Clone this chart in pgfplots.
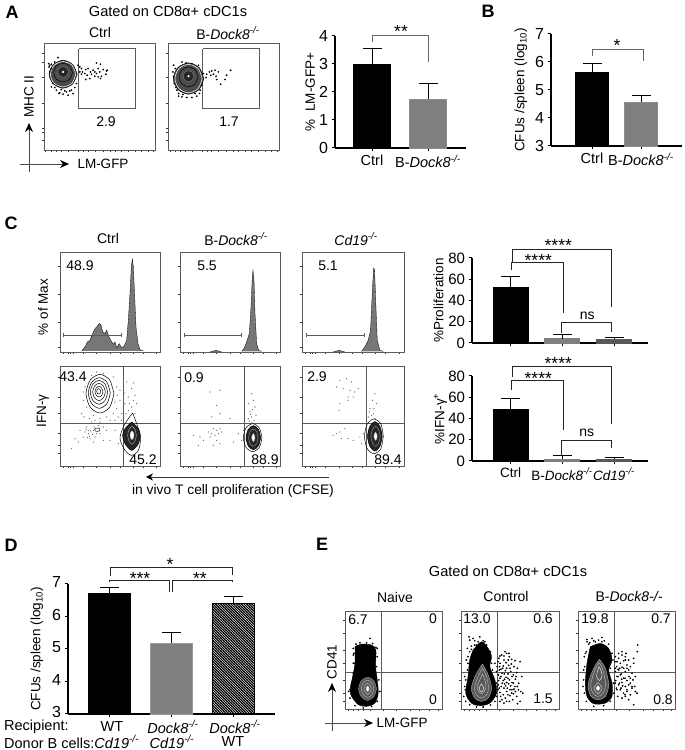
\documentclass[border=0pt]{standalone}
\usepackage{fontspec}
\setmainfont{Liberation Sans}
\usepackage{pgfplots}
\pgfplotsset{compat=1.18}
\usetikzlibrary{arrows.meta,patterns}
\pgfdeclarepatternformonly{hatchd}{\pgfqpoint{-1pt}{-1pt}}{\pgfqpoint{3.6pt}{3.6pt}}{\pgfqpoint{2.6pt}{2.6pt}}{\pgfsetlinewidth{1.05pt}\pgfpathmoveto{\pgfqpoint{-0.5pt}{3.1pt}}\pgfpathlineto{\pgfqpoint{3.1pt}{-0.5pt}}\pgfusepath{stroke}}
\definecolor{hist}{HTML}{777777}
\definecolor{barg}{HTML}{7F7F7F}
\definecolor{frame}{HTML}{5A5A5A}
\newcommand\dk{\textit{Dock8}\textsuperscript{\textit{-/-}}}
\newcommand\cd{\textit{Cd19}\textsuperscript{\textit{-/-}}}
\newcommand\T[3]{\node[inner sep=0pt] at (#1,750-#2) {#3};}
\newcommand\Tr[3]{\node[inner sep=0pt,rotate=90] at (#1,750-#2) {#3};}
\newcommand\Pan[3]{\node[inner sep=0pt,font=\fontsize{18}{18}\selectfont\bfseries] at (#1,750-#2) {#3};}
\newcommand\Star[3]{\node[inner sep=0pt,font=\fontsize{17.5}{17}\selectfont] at (#1,750-#2-3) {#3};}
\newcommand\Fs[1]{\fontsize{#1}{15}\selectfont}
\pgfplotsset{
 facs/.style n args={4}{scale only axis,anchor=center,
   at={(\fpeval{(#1+#3)/2}pt,\fpeval{750-(#2+#4)/2}pt)},
   width=\fpeval{#3-#1}pt,height=\fpeval{#4-#2}pt,
   y dir=reverse,xticklabels={},yticklabels={},
   xtick pos=left,ytick pos=left,tick align=outside,
   major tick length=2pt,
   tick style={black!80,line width=.5pt},
   axis line style={draw=frame,line width=.7pt}},
 bars/.style n args={4}{scale only axis,anchor=south west,
   at={(#1pt,\fpeval{750-#2}pt)},width=#3pt,height=#4pt,
   axis x line=bottom,axis y line=left,
   axis line style={-,black,line width=1.1pt},
   tick style={black,line width=1pt},major tick length=3.5pt,
   tick align=outside,
   /pgf/number format/assume math mode=true,
   y tick label style={font=\fontsize{16}{16}\selectfont},
   x tick label style={font=\fontsize{14.5}{15}\selectfont},
   ylabel style={font=\fontsize{13.5}{15}\selectfont,anchor=center},
   clip=false},
 br/.style={ybar,bar shift=0pt,error bars/y dir=plus,error bars/y explicit,
   error bars/error bar style={black,line width=1pt},
   error bars/error mark options={rotate=90,mark size=9.5pt,line width=1pt,black}},
 dots/.style={only marks,mark=*,mark size=.65pt,black,mark options={draw=black,fill=black}},
 fine/.style={only marks,mark=*,mark size=.32pt,mark options={draw=black!60,fill=black!60}},
 ln/.style={draw=frame,line width=.7pt},
}
\begin{document}
\begin{tikzpicture}[x=1pt,y=1pt,every node/.style={font=\fontsize{14}{15}\selectfont}]
\path (0,0) rectangle (685,750);
% ---------- A
\Pan{12}{12}{A}
\T{168}{11}{\Fs{14.6}Gated on CD8α+ cDC1s}
\T{100}{33}{Ctrl}
\T{228}{33}{B-\dk}
\begin{axis}[facs={44}{43}{155}{150},xmin=133,xmax=465,ymin=128,ymax=450,
  xtick={137,155,170,185,205,235,250,265,285,310,330,345,365,385,405,425,445,460},
  ytick={158,185,232,310,385,398,420}]
\addplot[ln] coordinates {(237,145)(407,145)(407,325)(237,325)(237,145)};
\addplot[dots] coordinates {(245,205)(258,208)(265,205)(272,215)(255,220)(262,225)(270,235)(280,210)(285,215)(290,188)(302,192)(295,205)(300,215)(310,208)(320,212)(318,222)(305,228)(295,230)(285,228)(275,222)(245,222)(240,200)(248,215)(290,220)(302,235)(258,238)(322,210)(150,195)(155,205)(148,200)(160,250)(170,270)(180,278)(190,282)(205,285)(215,270)(225,262)(230,250)(175,172)(240,215)(235,195)(155,260)(165,262)(200,275)(220,280)(210,272)(195,272)(185,268)(178,280)(150,215)(147,190)(155,192)(165,185)};
\addplot[smooth,fill=black!70,draw=black,line width=.5pt] coordinates {(232,222)(219,251)(190,264)(161,251)(148,222)(161,193)(190,180)(219,193)(232,222)};
\addplot[smooth,draw=white,line width=.5pt] coordinates {(228,222)(217,249)(190,260)(163,249)(152,222)(163,195)(190,184)(217,195)(228,222)};
\addplot[smooth,draw=black,line width=.5pt] coordinates {(218,217)(210,237)(190,245)(170,237)(162,217)(170,197)(190,189)(210,197)(218,217)};
\addplot[smooth,fill=black!85,draw=black!50,line width=.4pt] coordinates {(206,215)(201,226)(190,231)(179,226)(174,215)(179,204)(190,199)(201,204)(206,215)};
\addplot[only marks,mark=*,mark size=.9pt,mark options={draw=white,fill=white}] coordinates {(190,215)};
\end{axis}
\T{106}{122}{2.9}
\begin{axis}[facs={168}{43}{279}{150},xmin=503,xmax=838,ymin=128,ymax=450,
  xtick={510,525,540,555,575,605,620,635,655,680,700,715,735,755,775,795,815,832},
  ytick={158,232,310,385,398,420}]
\addplot[ln] coordinates {(608,145)(778,145)(778,325)(608,325)(608,145)};
\addplot[dots] coordinates {(620,222)(628,215)(635,212)(645,210)(655,215)(640,222)(632,225)(650,238)(648,228)(662,252)(680,225)(675,238)(692,210)(618,232)(610,220)(520,195)(525,205)(520,230)(518,215)(522,250)(530,270)(535,288)(545,290)(560,292)(575,292)(590,288)(600,270)(605,255)(598,280)(545,185)(558,188)(575,190)(595,195)(535,280)(548,283)(585,280)(527,262)};
\addplot[smooth,fill=black!70,draw=black,line width=.5pt] coordinates {(611,235)(597,268)(565,282)(533,268)(519,235)(533,202)(565,188)(597,202)(611,235)};
\addplot[smooth,draw=white,line width=.5pt] coordinates {(606,235)(594,265)(565,278)(536,265)(524,235)(536,205)(565,192)(594,205)(606,235)};
\addplot[smooth,draw=black,line width=.5pt] coordinates {(594,230)(585,251)(565,260)(545,251)(536,230)(545,209)(565,200)(585,209)(594,230)};
\addplot[smooth,fill=black!85,draw=black!50,line width=.4pt] coordinates {(581,228)(576,240)(565,244)(554,240)(549,228)(554,216)(565,212)(576,216)(581,228)};
\addplot[only marks,mark=*,mark size=.9pt,mark options={draw=white,fill=white}] coordinates {(565,228)};
\end{axis}
\T{229}{122}{1.7}
\Tr{29}{97}{\Fs{13.5}MHC II}
\draw[black!70,line width=.6pt,-{Stealth[length=9pt,width=8pt,black]}] (29,750-172)--(29,750-123);
\draw[black!70,line width=.6pt,-{Stealth[length=9pt,width=8pt,black]}] (20,750-164)--(69,750-164);
\T{103}{164}{\Fs{13.5}LM-GFP}
% bar A
\begin{axis}[bars={335}{148}{131}{112},xmin=335,xmax=466,ymin=0,ymax=4,
  ytick={0,1,2,3,4},xtick={372,428},
  xticklabels={Ctrl,{B-\dk}},
  ylabel={\%\ \ LM-GFP+},ylabel style={at={(axis description cs:-0.19,0.5)}}]
\addplot[br,fill=black,draw=black,bar width=37pt] coordinates {(372,3) +- (0,0.55)};
\addplot[br,fill=barg,draw=black!45,bar width=37pt] coordinates {(428,1.76) +- (0,0.54)};
\end{axis}
\draw[black!60,line width=.7pt] (372,750-42)--(372,750-35)--(428,750-35)--(428,750-62);
\Star{401}{28}{**}
% ---------- B
\Pan{488}{11}{B}
\begin{axis}[bars={551}{146}{131}{112},xmin=551,xmax=682,ymin=3,ymax=7,
  ytick={3,4,5,6,7},xtick={592,641},
  xticklabels={Ctrl,{B-\dk}},
  ylabel={CFUs /spleen (log\textsubscript{10})},ylabel style={at={(axis description cs:-0.23,0.5)}}]
\addplot[br,fill=black,draw=black,bar width=33pt] coordinates {(592,5.64) +- (0,0.29)};
\addplot[br,fill=barg,draw=black!45,bar width=33pt] coordinates {(641,4.57) +- (0,0.25)};
\end{axis}
\draw[black!60,line width=.7pt] (592,750-56)--(592,750-49)--(643,750-49)--(643,750-61);
\Star{617}{42}{*}
% ---------- C
\Pan{11}{223}{C}
\T{108}{239}{Ctrl}
\T{236}{239}{B-\dk}
\T{356}{239}{\cd}
\Tr{43}{307}{\Fs{13.5}\% of Max}
\Tr{43}{411}{\Fs{13.5}IFN-γ}
\begin{axis}[facs={60}{252}{160}{352},xmin=180,xmax=480,ymin=157,ymax=455,
  xtick={190,205,212,220,250,290,330,360,400,430,470},ytick={198,282,366,440}]
\addplot[fill=hist,draw=black,line width=.3pt] coordinates {(245,452)(255,440)(262,425)(270,420)(278,400)(285,385)(292,378)(298,370)(303,375)(308,395)(315,400)(320,390)(325,405)(332,420)(340,432)(345,425)(350,442)(358,430)(365,442)(372,438)(380,420)(385,360)(390,280)(394,200)(397,178)(400,200)(404,290)(408,380)(414,430)(420,448)(430,452)};
\addplot[ln,line width=.8pt] coordinates {(191,399)(191,411)(191,405)(364,405)(364,399)(364,411)};
\end{axis}
\T{80}{266}{48.9}
\begin{axis}[facs={180}{252}{280}{352},xmin=540,xmax=840,ymin=157,ymax=455,
  xtick={550,565,572,580,610,650,690,720,760,790,830},ytick={198,282,366,440}]
\addplot[fill=hist,draw=black,line width=.3pt] coordinates {(630,455)(648,450)(665,455)};
\addplot[fill=hist,draw=black,line width=.3pt] coordinates {(725,453)(732,445)(740,425)(748,400)(753,320)(757,230)(759,212)(762,240)(765,340)(770,430)(776,450)(785,453)};
\addplot[ln,line width=.8pt] coordinates {(553,399)(553,411)(553,405)(725,405)(725,399)(725,411)};
\end{axis}
\T{207}{266}{5.5}
\begin{axis}[facs={302}{252}{404}{352},xmin=907,xmax=1212,ymin=157,ymax=455,
  xtick={917,932,939,947,977,1017,1057,1087,1127,1157,1197},ytick={198,282,366,440}]
\addplot[fill=hist,draw=black,line width=.3pt] coordinates {(1000,455)(1018,450)(1035,455)};
\addplot[fill=hist,draw=black,line width=.3pt] coordinates {(1085,453)(1095,440)(1105,420)(1112,390)(1117,280)(1121,205)(1124,210)(1128,320)(1132,420)(1140,450)(1150,453)};
\addplot[ln,line width=.8pt] coordinates {(919,399)(919,411)(919,405)(1093,405)(1093,399)(1093,411)};
\end{axis}
\T{328}{266}{5.1}
% C row 2
\begin{axis}[facs={60}{366}{160}{466},xmin=180,xmax=480,ymin=497,ymax=797,
  xtick={190,205,212,220,250,290,330,360,400,430,470},ytick={530,590,640,700,735,760}]
\addplot[ln] coordinates {(370,497)(370,797)};
\addplot[ln] coordinates {(180,668)(480,668)};
\addplot[fine] coordinates {(290,515)(275,525)(310,520)(340,530)(380,545)(400,548)(395,565)(405,585)(385,590)(410,610)(395,620)(360,600)(375,610)(350,625)(340,640)(320,650)(300,655)(280,645)(260,620)(250,600)(250,575)(255,560)(350,560)(360,570)(385,630)(405,640)(365,640)(300,665)(280,690)(265,700)(270,715)(285,710)(250,710)(235,725)(215,745)(240,690)(300,700)(320,690)(330,720)(345,690)(260,680)(225,715)(280,725)(310,720)(355,730)(365,660)(345,660)(275,665)(265,690)(255,695)(290,700)(272,692)(268,708)(278,702)(262,712)(258,688)(282,680)(296,676)(310,680)(352,585)(345,605)(372,578)(388,610)(400,600)(378,640)(355,650)(330,660)(245,640)(252,650)(268,655)(285,660)};
\addplot[smooth,draw=black,line width=.5pt] coordinates {(342,580)(329,621)(300,638)(271,621)(258,580)(271,539)(300,522)(329,539)(342,580)};
\addplot[smooth,draw=black,line width=.5pt] coordinates {(331,578)(321,610)(298,624)(275,610)(265,578)(275,546)(298,532)(321,546)(331,578)};
\addplot[smooth,draw=black,line width=.5pt] coordinates {(323,576)(315,601)(297,612)(279,601)(271,576)(279,551)(297,540)(315,551)(323,576)};
\addplot[smooth,draw=black,line width=.5pt] coordinates {(316,575)(310,593)(297,601)(284,593)(278,575)(284,557)(297,549)(310,557)(316,575)};
\addplot[smooth,draw=black,line width=.5pt] coordinates {(309,574)(305,585)(297,590)(289,585)(285,574)(289,563)(297,558)(305,563)(309,574)};
\addplot[smooth,draw=black,line width=.5pt] coordinates {(302,573)(300,579)(296,581)(292,579)(290,573)(292,567)(296,565)(300,567)(302,573)};
\addplot[smooth,draw=black,line width=.5pt] coordinates {(300,688)(298,692)(292,693)(286,692)(284,688)(286,684)(292,683)(298,684)(300,688)};
\addplot[smooth,draw=black,line width=.5pt] coordinates {(398,638)(410,670)(422,710)(415,750)(395,765)(375,750)(360,715)(370,680)(385,655)(398,638)};
\addplot[smooth,fill=black!85,draw=black,line width=.5pt] coordinates {(395,665)(415,685)(420,705)(415,730)(395,750)(375,730)(368,705)(375,685)(395,665)};
\addplot[smooth,draw=black!30,line width=.4pt] coordinates {(409,705)(405,722)(396,732)(387,722)(383,705)(387,688)(396,678)(405,688)(409,705)};
\addplot[smooth,fill=white,draw=black!30,line width=.4pt] coordinates {(402,705)(400,714)(396,718)(392,714)(390,705)(392,696)(396,692)(400,696)(402,705)};
\end{axis}
\T{73}{377}{43.4}
\T{143}{460}{45.2}
\begin{axis}[facs={180}{366}{280}{466},xmin=540,xmax=840,ymin=497,ymax=797,
  xtick={550,565,572,580,610,650,690,720,760,790,830},ytick={530,590,640,700,735,760}]
\addplot[ln] coordinates {(732,497)(732,797)};
\addplot[ln] coordinates {(540,668)(840,668)};
\addplot[fine] coordinates {(630,575)(660,570)(650,615)(660,640)(690,655)(635,650)(755,580)(760,600)(745,610)(765,620)(750,635)(755,650)(762,660)(745,655)(640,685)(650,690)(660,685)(635,700)(645,705)(655,700)(625,695)(610,720)(595,735)(580,705)(650,720)(660,730)(640,735)(715,700)(725,720)(730,690)(700,725)(630,710)(665,695)(600,710)(752,642)(758,628)(768,645)(748,662)(756,668)};
\addplot[smooth,draw=black,line width=.5pt] coordinates {(786,712)(778,741)(758,754)(738,741)(730,712)(738,683)(758,670)(778,683)(786,712)};
\addplot[smooth,fill=black!85,draw=black,line width=.5pt] coordinates {(782,712)(775,737)(760,748)(745,737)(738,712)(745,687)(760,676)(775,687)(782,712)};
\addplot[smooth,draw=black!40,line width=.4pt] coordinates {(774,712)(770,730)(760,738)(750,730)(746,712)(750,694)(760,686)(770,694)(774,712)};
\addplot[smooth,fill=white,draw=black!30,line width=.4pt] coordinates {(765,712)(763,720)(760,724)(757,720)(755,712)(757,704)(760,700)(763,704)(765,712)};
\end{axis}
\T{194}{378}{0.9}
\T{265}{460}{88.9}
\begin{axis}[facs={302}{366}{404}{466},xmin=907,xmax=1212,ymin=497,ymax=797,
  xtick={917,932,939,947,977,1017,1057,1087,1127,1157,1197},ytick={530,590,640,700,735,760}]
\addplot[ln] coordinates {(1099,497)(1099,797)};
\addplot[ln] coordinates {(907,669)(1212,669)};
\addplot[fine] coordinates {(1020,540)(1040,535)(1055,545)(1075,565)(1010,560)(1030,565)(1050,570)(1060,590)(1045,600)(1020,610)(1018,630)(1125,580)(1118,600)(1130,610)(1110,625)(1120,640)(1105,650)(1125,655)(1112,660)(1035,685)(1020,695)(1010,700)(1000,705)(1025,715)(1045,715)(1060,720)(1090,700)(1080,710)(1085,730)(1045,590)(1065,575)(1122,625)(1115,645)(1108,635)};
\addplot[smooth,draw=black,line width=.5pt] coordinates {(1150,708)(1143,745)(1122,760)(1102,745)(1094,708)(1102,671)(1122,656)(1143,671)(1150,708)};
\addplot[smooth,fill=black!85,draw=black,line width=.5pt] coordinates {(1147,708)(1140,738)(1125,752)(1110,738)(1103,708)(1110,678)(1125,664)(1140,678)(1147,708)};
\addplot[smooth,draw=black!40,line width=.4pt] coordinates {(1141,708)(1136,729)(1127,738)(1118,729)(1113,708)(1118,687)(1127,678)(1136,687)(1141,708)};
\addplot[smooth,fill=white,draw=black!30,line width=.4pt] coordinates {(1132,708)(1130,716)(1127,720)(1124,716)(1122,708)(1124,700)(1127,696)(1130,700)(1132,708)};
\end{axis}
\T{317}{377}{2.9}
\T{388}{460}{89.4}
\draw[black!80,line width=.9pt,-{Stealth[length=7pt,width=7pt,black]}] (329,750-477)--(146,750-477);
\T{233}{491}{\Fs{13.8}in vivo T cell proliferation (CFSE)}
% C bars top
\begin{axis}[bars={472}{343}{176}{85},xmin=472,xmax=648,ymin=0,ymax=80,
  y tick label style={font=\fontsize{15}{15}\selectfont},
  ytick={0,20,40,60,80},xtick={510.5,562,614},xticklabels={},
  ylabel={\%Proliferation},ylabel style={at={(axis description cs:-0.19,0.5)}}]
\addplot[br,fill=black,draw=black,bar width=35pt] coordinates {(510.5,52.5) +- (0,10)};
\addplot[br,fill=barg,draw=barg,bar width=35pt] coordinates {(562,4.2) +- (0,3.8)};
\addplot[br,fill=black!65,draw=black!65,bar width=35pt] coordinates {(614,4) +- (0,1.6)};
\end{axis}
% C bars bottom
\begin{axis}[bars={472}{461}{176}{85},xmin=472,xmax=648,ymin=0,ymax=80,
  y tick label style={font=\fontsize{15}{15}\selectfont},
  x tick label style={font=\fontsize{13.5}{15}\selectfont},
  ytick={0,20,40,60,80},xtick={510.5,562,614},
  xticklabels={Ctrl,{B-\dk},{\cd}},
  ylabel={\%IFN-γ\textsuperscript{+}},ylabel style={at={(axis description cs:-0.18,0.5)}}]
\addplot[br,fill=black,draw=black,bar width=35pt] coordinates {(510.5,48.8) +- (0,10.2)};
\addplot[br,fill=barg,draw=barg,bar width=35pt] coordinates {(562,2) +- (0,3.4)};
\addplot[br,fill=black!65,draw=black!65,bar width=35pt] coordinates {(614,2) +- (0,1.5)};
\end{axis}
\begin{scope}[black!85,line width=.9pt]
\draw (512.3,750-261.7)--(512.3,750-249.3)--(611.7,750-249.3)--(611.7,750-307.3);
\draw (511,750-270)--(511,750-262.3)--(563.3,750-262.3)--(563.3,750-312.7);
\draw (561.3,750-333.3)--(561.3,750-322.7)--(611.7,750-322.7)--(611.7,750-331.7);
\draw (512.3,750-377.3)--(512.3,750-366)--(611.7,750-366)--(611.7,750-424);
\draw (511,750-390)--(511,750-380)--(563.3,750-380)--(563.3,750-430);
\draw (561.3,750-455)--(561.3,750-440.3)--(611.7,750-440.3)--(611.7,750-448.3);
\end{scope}
\Star{558.3}{242.7}{****}
\Star{538.3}{257.3}{****}
\T{587.3}{316}{ns}
\Star{558.3}{360}{****}
\Star{538.3}{375}{****}
\T{586.7}{433.3}{ns}
% ---------- D
\Pan{11}{545}{D}
\begin{axis}[bars={68}{714}{207}{130},xmin=68,xmax=275,ymin=3,ymax=7,
  y tick label style={yshift=2pt},
  ytick={3,4,5,6,7},xtick={109.5,171.5,233.5},xticklabels={},
  ylabel={CFUs /spleen (log\textsubscript{10})},ylabel style={at={(axis description cs:-0.15,0.5)}}]
\addplot[br,fill=black,draw=black,bar width=42pt] coordinates {(109.5,6.71) +- (0,0.18)};
\addplot[br,fill=barg,draw=black!40,bar width=42pt] coordinates {(171.5,5.18) +- (0,0.34)};
\addplot[br,pattern=hatchd,pattern color=black,draw=black,bar width=42pt] coordinates {(233.5,6.41) +- (0,0.2)};
\end{axis}
\begin{scope}[black!85,line width=.9pt]
\draw (110,750-576)--(110,750-567)--(232,750-567)--(232,750-575);
\draw (109.3,750-582)--(109.3,750-580)--(169.7,750-580)--(169.7,750-592);
\draw (172.7,750-592)--(172.7,750-580)--(232.3,750-580)--(232.3,750-582);
\end{scope}
\Star{170}{561}{*}
\Star{140}{575}{***}
\Star{200}{575}{**}
\node[inner sep=0pt,anchor=west] at (4,750-727) {\Fs{14.5}Recipient:};
\T{112}{727}{\Fs{14.5}WT}
\T{173}{727}{\Fs{14.5}\dk}
\T{235}{727}{\Fs{14.5}\dk}
\node[inner sep=0pt,anchor=west] at (4,750-742) {\Fs{14.5}Donor B cells:\cd};
\T{172}{742}{\Fs{14.5}\cd}
\T{233}{742}{\Fs{14.5}WT}
% ---------- E
\Pan{322}{544}{E}
\T{508}{571}{\Fs{14.6}Gated on CD8α+ cDC1s}
\T{395}{597}{Naive}
\T{506}{596}{Control}
\T{629}{596}{B-\textit{Dock8-/-}}
\begin{axis}[facs={345}{611}{442}{709},xmin=135,xmax=427,ymin=272,ymax=568,
  xtick={145,160,175,190,210,250,290,330,360,390,415},ytick={300,340,390,430,480,520,545}]
\addplot[ln] coordinates {(243,272)(243,568)};
\addplot[ln] coordinates {(135,458)(427,458)};
\addplot[dots] coordinates {(210,355)(160,430)(155,515)(150,510)(195,375)(172,378)(228,382)(160,405)(160,385)(168,372)(180,368)(200,368)(218,370)(232,385)(232,410)(230,440)(237,480)(240,515)(232,545)(215,560)(190,565)(165,558)(150,535)(146,515)(155,490)(160,460)(163,430)(162,400)};
\addplot[smooth,fill=black,draw=black] coordinates {(165,380)(185,372)(215,375)(228,390)(227,440)(232,480)(235,520)(225,550)(200,560)(175,555)(155,530)(150,510)(158,470)(165,430)(165,380)};
\addplot[smooth,fill=black!65,draw=black!40,line width=.4pt] coordinates {(230,507)(222,531)(203,542)(184,531)(176,507)(184,483)(203,472)(222,483)(230,507)};
\addplot[smooth,draw=black!25,line width=.4pt] coordinates {(222,507)(216,525)(203,533)(190,525)(184,507)(190,489)(203,481)(216,489)(222,507)};
\addplot[smooth,draw=black!20,line width=.4pt] coordinates {(214,507)(210,519)(203,524)(196,519)(192,507)(196,495)(203,490)(210,495)(214,507)};
\addplot[smooth,fill=white,draw=black!20,line width=.4pt] coordinates {(207,507)(206,513)(203,515)(200,513)(199,507)(200,501)(203,499)(206,501)(207,507)};
\end{axis}
\T{358}{620}{6.7}
\T{433}{619}{0}
\T{433}{700}{0}
\begin{axis}[facs={461}{611}{559}{709},xmin=484,xmax=776,ymin=272,ymax=568,
  xtick={494,509,524,539,559,599,639,679,709,739,764},ytick={300,340,390,430,480,520,545}]
\addplot[ln] coordinates {(591,272)(591,568)};
\addplot[ln] coordinates {(484,457)(776,457)};
\addplot[dots] coordinates {(597,415)(605,405)(612,420)(620,400)(628,410)(635,418)(645,422)(660,425)(600,430)(610,438)(618,428)(626,436)(634,432)(642,440)(652,445)(598,450)(606,460)(616,452)(624,462)(632,455)(640,465)(650,458)(665,470)(600,475)(610,482)(618,472)(628,480)(636,488)(646,478)(656,490)(595,495)(604,500)(614,492)(622,505)(632,498)(642,508)(652,500)(662,515)(600,518)(610,525)(620,515)(630,528)(640,522)(650,530)(668,520)(606,540)(616,535)(628,545)(638,540)(660,545)(652,552)(612,408)(592,440)(595,465)(620,488)(636,510)(626,492)(508,350)(540,350)(555,365)(525,362)(515,378)(500,420)(495,470)(497,510)(503,385)(560,385)(510,360)(585,430)(594,425)(599,440)(603,448)(608,445)(613,462)(620,445)(596,482)(603,470)(607,490)(612,505)(617,498)(598,505)(602,530)(590,455)(594,510)(625,420)(630,445)(636,470)(624,475)(614,478)(630,510)(624,525)(640,490)(645,500)(655,510)(648,470)(600,545)(612,550)(620,545)(635,520)(646,515)(590,530)(600,408)(615,395)(627,400)(510,395)(515,388)(505,430)(503,450)(498,480)(495,500)(492,530)(498,545)(510,555)(530,562)(550,562)(572,556)(585,545)(592,500)(590,490)(575,430)(572,395)(560,375)(550,362)(530,375)(520,355)(525,375)(535,365)(505,410)(578,450)};
\addplot[smooth,fill=black,draw=black] coordinates {(520,390)(545,365)(565,385)(575,410)(570,440)(585,480)(590,520)(570,550)(540,558)(515,550)(498,520)(505,470)(510,420)(520,390)};
\addplot[smooth,fill=black!65,draw=black!30,line width=.4pt] coordinates {(548,432)(565,465)(575,505)(565,535)(545,545)(525,535)(515,505)(528,465)(548,432)};
\addplot[smooth,draw=black!25,line width=.4pt] coordinates {(548,445)(560,470)(566,505)(560,525)(545,535)(530,525)(524,505)(535,470)(548,445)};
\addplot[smooth,draw=black!20,line width=.4pt] coordinates {(548,462)(555,480)(558,505)(545,522)(532,505)(540,480)(548,462)};
\addplot[smooth,draw=white,line width=.4pt] coordinates {(545,492)(552,505)(545,517)(538,505)(545,492)};
\end{axis}
\T{477}{619}{13.0}
\T{543}{619}{0.6}
\T{543}{699}{1.5}
\begin{axis}[facs={578}{611}{675}{709},xmin=833,xmax=1124,ymin=272,ymax=568,
  xtick={843,858,873,888,908,948,988,1028,1058,1088,1113},ytick={300,340,390,430,480,520,545}]
\addplot[ln] coordinates {(941,272)(941,568)};
\addplot[ln] coordinates {(833,456)(1124,456)};
\addplot[dots] coordinates {(945,410)(955,400)(965,395)(975,410)(985,420)(1000,415)(1012,375)(950,425)(960,430)(970,422)(980,435)(990,440)(1000,430)(945,445)(955,450)(965,442)(975,455)(985,450)(995,460)(1005,470)(950,470)(960,465)(970,475)(980,482)(990,475)(945,490)(955,495)(965,488)(975,500)(985,495)(995,505)(1005,515)(960,510)(970,520)(980,515)(990,525)(1010,520)(965,535)(975,530)(985,540)(1000,555)(950,510)(1003,500)(1011,395)(860,358)(875,355)(895,360)(905,352)(912,362)(885,365)(868,368)(855,400)(850,450)(848,500)(860,365)(944,425)(949,440)(953,448)(958,445)(963,462)(970,445)(946,482)(953,470)(957,490)(962,505)(967,498)(948,505)(952,530)(945,455)(975,420)(980,445)(986,470)(974,475)(964,478)(980,510)(974,525)(990,490)(995,500)(998,480)(955,415)(965,405)(977,400)(858,395)(865,372)(880,362)(905,365)(925,372)(935,400)(938,420)(930,445)(939,490)(941,520)(930,545)(910,558)(880,560)(858,545)(852,520)(850,480)(853,440)(852,410)};
\addplot[smooth,fill=black,draw=black] coordinates {(870,380)(900,370)(925,385)(935,420)(925,450)(935,490)(935,530)(915,550)(880,552)(860,530)(855,490)(860,430)(870,380)};
\addplot[smooth,fill=black!65,draw=black!30,line width=.4pt] coordinates {(897,418)(915,445)(925,495)(915,530)(893,540)(872,530)(863,495)(880,445)(897,418)};
\addplot[smooth,draw=black!25,line width=.4pt] coordinates {(897,428)(908,450)(916,495)(908,520)(893,530)(878,520)(871,495)(884,450)(897,428)};
\addplot[smooth,draw=white,line width=.4pt] coordinates {(897,440)(903,455)(905,470)(897,482)(889,470)(891,455)(897,440)};
\addplot[smooth,draw=black!15,line width=.4pt] coordinates {(893,488)(905,505)(893,522)(881,505)(893,488)};
\addplot[smooth,fill=white,draw=white,line width=.4pt] coordinates {(893,498)(898,505)(893,512)(888,505)(893,498)};
\end{axis}
\T{595}{619}{19.8}
\T{661}{619}{0.7}
\T{663}{700}{0.8}
\Tr{332}{662}{\Fs{13.5}CD41}
\draw[black!70,line width=.6pt,-{Stealth[length=9pt,width=8pt,black]}] (332,750-731)--(332,750-683);
\draw[black!70,line width=.6pt,-{Stealth[length=9pt,width=8pt,black]}] (325,750-723)--(373,750-723);
\T{402}{723}{\Fs{13.5}LM-GFP}
\end{tikzpicture}
\end{document}
